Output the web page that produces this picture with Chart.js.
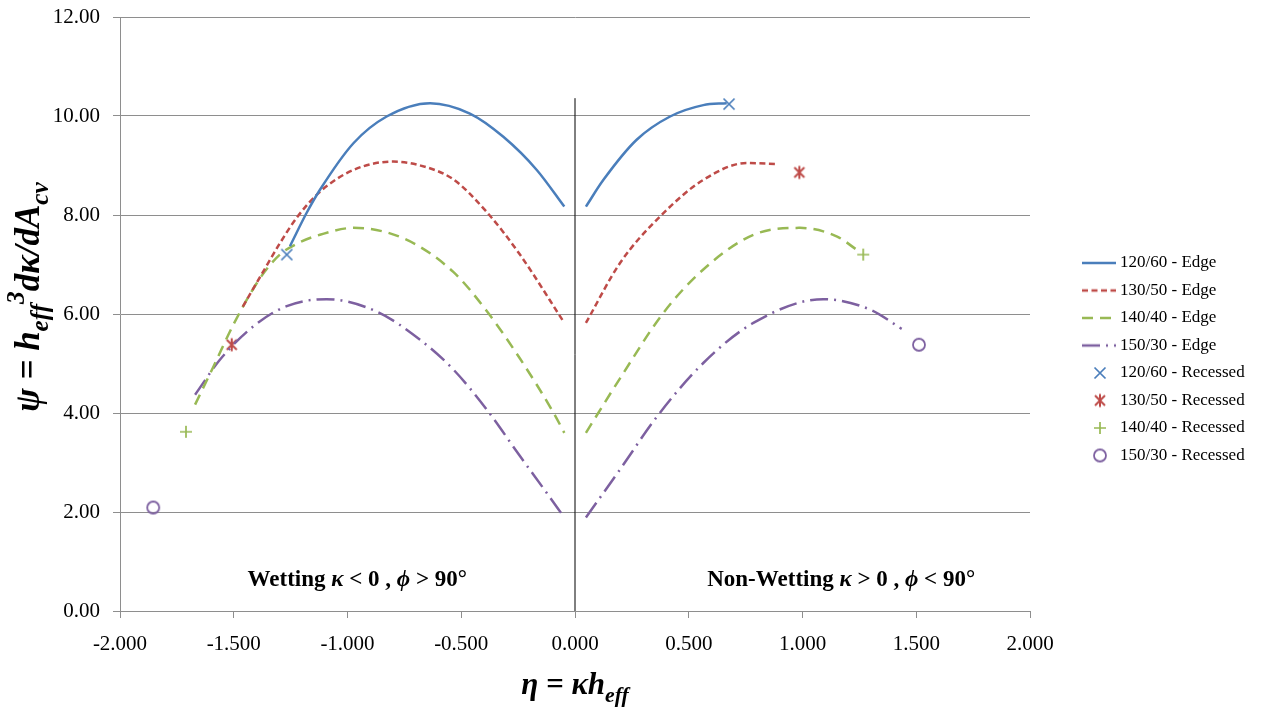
<!DOCTYPE html>
<html><head><meta charset="utf-8">
<script src="https://cdn.jsdelivr.net/npm/chart.js@4.4.0/dist/chart.umd.min.js"></script>
<style>html,body{margin:0;padding:0;background:#fff}#wrap{width:1263px;height:711px;position:relative}</style>
</head><body><div id="wrap"><canvas id="c"></canvas></div>
<script>
// ---------- DATA ----------
const edge120LeftEta  = [-1.253,-1.180,-1.121,-0.974,-0.828,-0.637,-0.462,-0.315,-0.168,-0.047];
const edge120LeftPsi  = [7.37, 8.04, 8.51, 9.45, 9.99, 10.26, 10.05, 9.58, 8.91, 8.17];
const edge120RightEta = [0.048, 0.125, 0.271, 0.418, 0.564, 0.667];
const edge120RightPsi = [8.17, 8.71, 9.52, 9.99, 10.22, 10.26];

const edge130LeftEta  = [-1.460,-1.370,-1.297,-1.224,-1.121,-0.974,-0.799,-0.680,-0.535,-0.388,-0.242,-0.047];
const edge130LeftPsi  = [6.15, 6.86, 7.43, 7.94, 8.47, 8.91, 9.08, 9.00, 8.72, 8.06, 7.20, 5.82];
const edge130RightEta = [0.048, 0.198, 0.374, 0.564, 0.755, 0.894];
const edge130RightPsi = [5.82, 7.03, 7.97, 8.71, 9.05, 9.03];

const edge140LeftEta  = [-1.670,-1.590,-1.500,-1.385,-1.297,-1.209,-1.121,-0.974,-0.750,-0.535,-0.388,-0.242,-0.095,-0.047];
const edge140LeftPsi  = [4.17, 4.93, 5.80, 6.72, 7.20, 7.45, 7.60, 7.74, 7.52, 6.85, 6.06, 5.10, 4.01, 3.60];
const edge140RightEta = [0.048, 0.198, 0.388, 0.564, 0.784, 0.989, 1.150, 1.238];
const edge140RightPsi = [3.60, 4.70, 6.02, 6.90, 7.60, 7.74, 7.57, 7.30];

const edge150LeftEta  = [-1.670,-1.560,-1.414,-1.267,-1.092,-0.872,-0.681,-0.535,-0.388,-0.242,-0.125,-0.047];
const edge150LeftPsi  = [4.37, 5.08, 5.75, 6.16, 6.30, 6.05, 5.48, 4.88, 4.07, 3.13, 2.39, 1.89];
const edge150RightEta = [0.048, 0.198, 0.359, 0.564, 0.784, 1.092, 1.297, 1.436];
const edge150RightPsi = [1.89, 2.86, 3.92, 5.01, 5.82, 6.30, 6.09, 5.70];

const rec120Eta = [-1.267, 0.677];  const rec120Psi = [7.20, 10.24];
const rec130Eta = [-1.509, 0.986];  const rec130Psi = [5.38, 8.86];
const rec140Eta = [-1.710, 1.267];  const rec140Psi = [3.62, 7.20];
const rec150Eta = [-1.854, 1.512];  const rec150Psi = [2.09, 5.38];

const dividerEta = [0, 0];
const dividerPsi = [0, 10.36];

const seriesLabels = ['120/60 - Edge','130/50 - Edge','140/40 - Edge','150/30 - Edge',
                      '120/60 - Recessed','130/50 - Recessed','140/40 - Recessed','150/30 - Recessed'];

// ---------- STYLE ----------
const FAMILY = '"Liberation Serif", "Times New Roman", serif';
Chart.defaults.font.family = FAMILY;
Chart.defaults.color = '#000';
const BLUE = '#4A7EBB', RED = '#BE4B48', GREEN = '#98B954', PURPLE = '#7D60A0';
const GRID = '#8E8E8E';
const DASH = { solid: [], short: [6, 3.5], long: [11, 7], dashDot: [18, 6, 2, 6] };

const pts = (ex, ey) => ex.map((v, i) => ({x: v, y: ey[i]}));
const branches = (le, lp, re, rp) => [...pts(le, lp), {x: 0, y: null}, ...pts(re, rp)];

function drawMarker(g, kind, cx, cy, color) {
  g.strokeStyle = color; g.lineCap = 'butt'; g.setLineDash([]);
  g.beginPath();
  if (kind === 'x') {
    g.lineWidth = 1.7; const r = 5.5;
    g.moveTo(cx - r, cy - r); g.lineTo(cx + r, cy + r);
    g.moveTo(cx - r, cy + r); g.lineTo(cx + r, cy - r);
  } else if (kind === 'ast') {
    g.lineWidth = 2; const r = 5;
    g.moveTo(cx - r, cy - r); g.lineTo(cx + r, cy + r);
    g.moveTo(cx - r, cy + r); g.lineTo(cx + r, cy - r);
    g.moveTo(cx, cy - 6.5); g.lineTo(cx, cy + 6.5);
  } else if (kind === 'plus') {
    g.lineWidth = 1.7; const r = 6;
    g.moveTo(cx - r, cy); g.lineTo(cx + r, cy);
    g.moveTo(cx, cy - r); g.lineTo(cx, cy + r);
  } else if (kind === 'o') {
    g.lineWidth = 1.8;
    g.arc(cx, cy, 6, 0, Math.PI * 2);
  }
  g.stroke();
}
function markerCanvas(kind, color) {
  const c = document.createElement('canvas'); c.width = 18; c.height = 18;
  drawMarker(c.getContext('2d'), kind, 9, 9, color);
  return c;
}
// legend icons
const ICON_W = 80;
function legendIcon(kind, color, dash) {
  const c = document.createElement('canvas'); c.width = ICON_W; c.height = 20;
  const g = c.getContext('2d');
  if (kind === 'line') {
    g.strokeStyle = color; g.lineWidth = 2.5; g.setLineDash(dash); g.lineCap = 'butt';
    g.beginPath(); g.moveTo(46, 10); g.lineTo(80, 10); g.stroke();
  } else drawMarker(g, kind, 64, 10, color);
  return c;
}
const legendIcons = [
  legendIcon('line', BLUE, DASH.solid), legendIcon('line', RED, DASH.short),
  legendIcon('line', GREEN, DASH.long), legendIcon('line', PURPLE, DASH.dashDot),
  legendIcon('x', BLUE), legendIcon('ast', RED), legendIcon('plus', GREEN), legendIcon('o', PURPLE)
];

const lineDs = (label, data, color, dash) => ({
  type: 'line', label, data, borderColor: color, backgroundColor: color, borderWidth: 2.5,
  borderDash: dash, borderCapStyle: 'butt', pointRadius: 0, pointHoverRadius: 0,
  cubicInterpolationMode: 'monotone', spanGaps: false, fill: false
});
const markDs = (label, data, kind, color) => ({
  type: 'scatter', label, data, showLine: false, pointStyle: markerCanvas(kind, color),
  pointRadius: 6, pointHoverRadius: 6, borderColor: color, backgroundColor: 'rgba(0,0,0,0)'
});

// ---------- LEGEND GEOMETRY ----------
const LEG_FONT = 17, LEG_PAD = 10.5, LEG_BOX = 71;
const mctx = document.createElement('canvas').getContext('2d');
mctx.font = `normal normal ${LEG_FONT}px ${FAMILY}`;
const maxTextW = Math.max(...seriesLabels.map(t => mctx.measureText(t).width));
const legendW = LEG_PAD + LEG_BOX + LEG_FONT / 2 + maxTextW + 10;
const PLOT_RIGHT = 1030;
const padRight = Math.max(0, 1263 - PLOT_RIGHT - legendW);

// ---------- RICH TEXT ----------
function runFont(r, size) {
  return `${r.it ? 'italic ' : ''}bold ${size * (r.sc || 1)}px ${FAMILY}`;
}
function drawRich(ctx, runs, size, cx, baseY) {
  let w = 0;
  runs.forEach(r => { ctx.font = runFont(r, size); w += ctx.measureText(r.t).width; });
  let x = cx - w / 2;
  ctx.textAlign = 'left'; ctx.textBaseline = 'alphabetic';
  runs.forEach(r => {
    ctx.font = runFont(r, size);
    ctx.fillText(r.t, x, baseY + (r.dy || 0) * size);
    x += ctx.measureText(r.t).width;
  });
}
const SUB = {it: true, sc: 0.72, dy: 0.25};
const Y_TITLE = [{t: 'ψ = h', it: true}, {t: 'eff', ...SUB}, {t: '3', it: true, sc: 0.72, dy: -0.42},
                 {t: 'dκ/dA', it: true}, {t: 'cv', ...SUB}];
const X_TITLE = [{t: 'η = κh', it: true}, {t: 'eff', it: true, sc: 0.7, dy: 0.25}];
const WET = [{t: 'Wetting '}, {t: 'κ', it: true}, {t: ' < 0 , '}, {t: 'ϕ', it: true}, {t: ' > 90°'}];
const NONWET = [{t: 'Non-Wetting '}, {t: 'κ', it: true}, {t: ' > 0 , '}, {t: 'ϕ', it: true}, {t: ' < 90°'}];

const textPlugin = {
  id: 'texts',
  afterDraw(chart) {
    const {ctx, chartArea: ca, scales: {x, y}} = chart;
    ctx.save();
    ctx.fillStyle = '#000';
    drawRich(ctx, X_TITLE, 31, (ca.left + ca.right) / 2, 694);
    ctx.save();
    ctx.translate(39, 297); ctx.rotate(-Math.PI / 2);
    drawRich(ctx, Y_TITLE, 35, 0, 0);
    ctx.restore();
    drawRich(ctx, WET, 23, x.getPixelForValue(-0.957), y.getPixelForValue(0.5));
    drawRich(ctx, NONWET, 23, x.getPixelForValue(1.17), y.getPixelForValue(0.5));
    ctx.restore();
  }
};

new Chart(document.getElementById('c'), {
  type: 'scatter',
  data: {
    datasets: [
      lineDs(seriesLabels[0], branches(edge120LeftEta, edge120LeftPsi, edge120RightEta, edge120RightPsi), BLUE, DASH.solid),
      lineDs(seriesLabels[1], branches(edge130LeftEta, edge130LeftPsi, edge130RightEta, edge130RightPsi), RED, DASH.short),
      lineDs(seriesLabels[2], branches(edge140LeftEta, edge140LeftPsi, edge140RightEta, edge140RightPsi), GREEN, DASH.long),
      lineDs(seriesLabels[3], branches(edge150LeftEta, edge150LeftPsi, edge150RightEta, edge150RightPsi), PURPLE, DASH.dashDot),
      markDs(seriesLabels[4], pts(rec120Eta, rec120Psi), 'x', BLUE),
      markDs(seriesLabels[5], pts(rec130Eta, rec130Psi), 'ast', RED),
      markDs(seriesLabels[6], pts(rec140Eta, rec140Psi), 'plus', GREEN),
      markDs(seriesLabels[7], pts(rec150Eta, rec150Psi), 'o', PURPLE),
      { type: 'line', label: 'divider', data: pts(dividerEta, dividerPsi), borderColor: '#000',
        borderWidth: 1, pointRadius: 0, pointHoverRadius: 0, fill: false }
    ]
  },
  options: {
    responsive: true, maintainAspectRatio: false, animation: false, events: [],
    layout: { padding: { left: 0, top: 17, right: padRight, bottom: 0 } },
    plugins: {
      tooltip: { enabled: false },
      legend: {
        position: 'right', align: 'start',
        title: { display: true, text: ' ', font: { size: 10 }, padding: { top: 215, bottom: 0 } },
        labels: {
          usePointStyle: true, pointStyleWidth: LEG_BOX, padding: LEG_PAD, color: '#000',
          font: { size: LEG_FONT, family: FAMILY },
          generateLabels: () => seriesLabels.map((t, i) => ({
            text: t, pointStyle: legendIcons[i], fillStyle: 'rgba(0,0,0,0)', strokeStyle: 'rgba(0,0,0,0)',
            lineWidth: 0, hidden: false, datasetIndex: i, fontColor: '#000'
          }))
        }
      }
    },
    scales: {
      x: {
        type: 'linear', min: -2, max: 2,
        afterFit: s => { s.height = 100; },
        ticks: { stepSize: 0.5, padding: 14, font: { size: 21 }, color: '#000', maxRotation: 0,
                 callback: v => v.toFixed(3) },
        grid: { drawOnChartArea: false, drawTicks: true, tickLength: 7, color: GRID },
        border: { display: true, color: GRID, width: 1 }
      },
      y: {
        type: 'linear', min: 0, max: 12,
        afterFit: s => { s.width = 120; s.paddingTop = 0; s.paddingBottom = 0; },
        ticks: { stepSize: 2, padding: 13, font: { size: 21 }, color: '#000',
                 callback: v => v.toFixed(2) },
        grid: { color: GRID, tickLength: 7, lineWidth: 1 },
        border: { display: true, color: GRID, width: 1 }
      }
    }
  },
  plugins: [textPlugin]
});
</script>
</body></html>
